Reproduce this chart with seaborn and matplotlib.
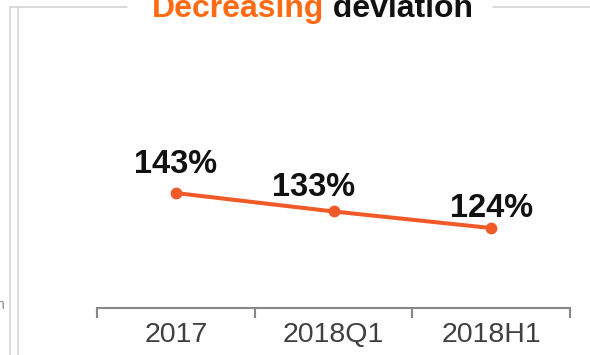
import matplotlib
matplotlib.use("Agg")
import matplotlib.pyplot as plt
from matplotlib.lines import Line2D
import seaborn as sns
import pandas as pd

periods = ["2017", "2018Q1", "2018H1"]
deviation = [143, 133, 124]
labels = ["143%", "133%", "124%"]
title_orange = "Decreasing"
title_black = " deviation"

sns.set_theme(style="white")
plt.rcParams["font.family"] = ["Liberation Sans", "DejaVu Sans"]

W, H = 590, 355
fig = plt.figure(figsize=(W / 100, H / 100), dpi=100)

def fx(px):
    return px / W

def fy(py):
    return 1 - py / H

ax = fig.add_axes([fx(97), fy(308), fx(570) - fx(97), fy(30) - fy(308)])

df = pd.DataFrame({"period": periods, "value": deviation})
df["x"] = range(len(df))
line_color = "#F05A28"
sns.lineplot(data=df, x="x", y="value", ax=ax, color=line_color, lw=2.9,
             marker="o", markersize=8.5, markeredgewidth=0, markerfacecolor=line_color)

ax.set_xlim(-0.5, 2.5)
ax.set_ylim(80.6, 231.5)
ax.set_xlabel("")
ax.set_ylabel("")
ax.set_yticks([])
ax.set_xticks(range(len(periods)))
ax.set_xticklabels(periods, fontsize=20.5, color="#404040")
ax.set_xticks([-0.5, 0.5, 1.5, 2.5], minor=True)
ax.tick_params(axis="x", which="major", length=0, pad=10)
ax.tick_params(axis="x", which="minor", length=7, width=1.5, color="#888888", direction="out", bottom=True)
for s in ["top", "right", "left"]:
    ax.spines[s].set_visible(False)
ax.spines["bottom"].set_color("#888888")
ax.spines["bottom"].set_linewidth(1.5)
ax.patch.set_alpha(0)

offsets = [(0, 14.4), (-14.4, 10.8), (0, 7.9)]
for i, (v, lab) in enumerate(zip(deviation, labels)):
    ax.annotate(lab, (i, v), xytext=offsets[i], textcoords="offset points",
                ha="center", va="baseline", fontsize=23.5, fontweight="bold", color="#111111")

# decorative frame lines
deco = "#D4D4D4"
fig.add_artist(Line2D([fx(9.5), fx(127)], [fy(7), fy(7)], color=deco, lw=1.2))
fig.add_artist(Line2D([fx(493), fx(590)], [fy(7), fy(7)], color=deco, lw=1.2))
fig.add_artist(Line2D([fx(9.5), fx(9.5)], [fy(7), fy(355)], color=deco, lw=1.2))
fig.add_artist(Line2D([fx(17.5), fx(17.5)], [fy(7), fy(355)], color=deco, lw=1.2))
fig.text(fx(-4), fy(309), "n", fontsize=10, color="#888888", ha="left", va="baseline")

# title
t1 = fig.text(fx(152), fy(17), title_orange, fontsize=23, fontweight="bold",
              color="#FF6A13", ha="left", va="baseline")
fig.canvas.draw()
bb = t1.get_window_extent(fig.canvas.get_renderer())
fig.text(bb.x1 / W, fy(17), title_black, fontsize=23, fontweight="bold",
         color="#111111", ha="left", va="baseline")

fig.savefig("out.png", dpi=100)
